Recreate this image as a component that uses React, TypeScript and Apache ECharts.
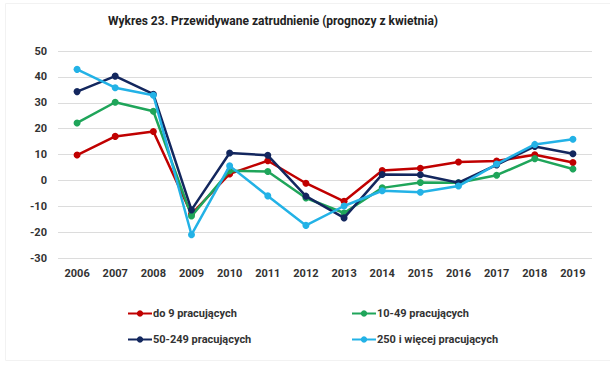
import React, { useEffect, useRef } from "react";
import * as echarts from "echarts";

const years = ["2006","2007","2008","2009","2010","2011","2012","2013","2014","2015","2016","2017","2018","2019"];
const small = [9.8, 17, 18.9, -13, 2.5, 7.6, -1.1, -8.1, 3.8, 4.7, 7.1, 7.5, 9.9, 6.9];
const medium = [22.2, 30.2, 26.7, -13.8, 3.7, 3.4, -6.8, -12.6, -2.9, -0.8, -0.9, 2.0, 8.4, 4.4];
const large = [34.3, 40.3, 33.3, -11.4, 10.6, 9.7, -6.1, -14.5, 2.3, 2.2, -0.9, 6.0, 13.1, 10.3];
const veryLarge = [42.9, 35.8, 32.9, -21.0, 5.6, -6.0, -17.4, -9.9, -4.0, -4.6, -2.2, 6.3, 13.9, 15.9];
const seriesNames = ["do 9 pracujących", "10-49 pracujących", "50-249 pracujących", "250 i więcej pracujących"];
const colors = ["#C00000", "#1FA55A", "#13275E", "#23B2E6"];

export default function App() {
  const ref = useRef<HTMLDivElement>(null);
  useEffect(() => {
    const chart = echarts.init(ref.current!, null, { renderer: "svg" });
    const data = [small, medium, large, veryLarge];
    const legendPos = [
      { left: 127, top: 308 },
      { left: 351, top: 308 },
      { left: 127, top: 334 },
      { left: 351, top: 334 },
    ];
    chart.setOption({
      animation: false,
      backgroundColor: "#fff",
      graphic: [
        {
          type: "rect",
          shape: { x: 5.5, y: 3.5, width: 620, height: 357 },
          style: { fill: "none", stroke: "#F2F2F2", lineWidth: 1 },
          silent: true,
          z: -1,
        },
      ],
      title: {
        text: "Wykres 23. Przewidywane zatrudnienie (prognozy z kwietnia)",
        left: 103,
        top: 10,
        textStyle: { fontFamily: "Roboto", fontSize: 12, fontWeight: "bold", color: "#222" },
      },
      grid: { left: 58, right: 18, top: 51, bottom: 111, containLabel: false },
      legend: seriesNames.map((n, i) => ({
        data: [n],
        left: legendPos[i].left,
        top: legendPos[i].top,
        itemWidth: 24,
        itemHeight: 8,
        itemGap: 0,
        padding: 0,
        textStyle: { fontFamily: "Roboto", fontSize: 11, fontWeight: "bold", color: "#333", padding: [0, 0, 0, -4] },
      })),
      xAxis: {
        type: "category",
        data: years,
        axisLine: { show: false },
        axisTick: { show: false },
        axisLabel: { fontFamily: "Roboto", fontSize: 11, fontWeight: "bold", color: "#333", margin: 10 },
      },
      yAxis: {
        type: "value",
        min: -30,
        max: 50,
        interval: 10,
        axisLine: { show: false },
        axisTick: { show: false },
        axisLabel: { fontFamily: "Roboto", fontSize: 11, fontWeight: "bold", color: "#333", margin: 11 },
        splitLine: { lineStyle: { color: "#DCDCDC", width: 1 } },
      },
      series: data.map((d, i) => ({
        name: seriesNames[i],
        type: "line",
        data: d,
        symbol: "circle",
        symbolSize: 7,
        lineStyle: { width: 2.5, color: colors[i] },
        itemStyle: { color: colors[i] },
        z: 2 + i,
      })),
    });
    return () => chart.dispose();
  }, []);
  return <div ref={ref} style={{ position: "absolute", left: 0, top: 0, width: 610, height: 369 }} />;
}
